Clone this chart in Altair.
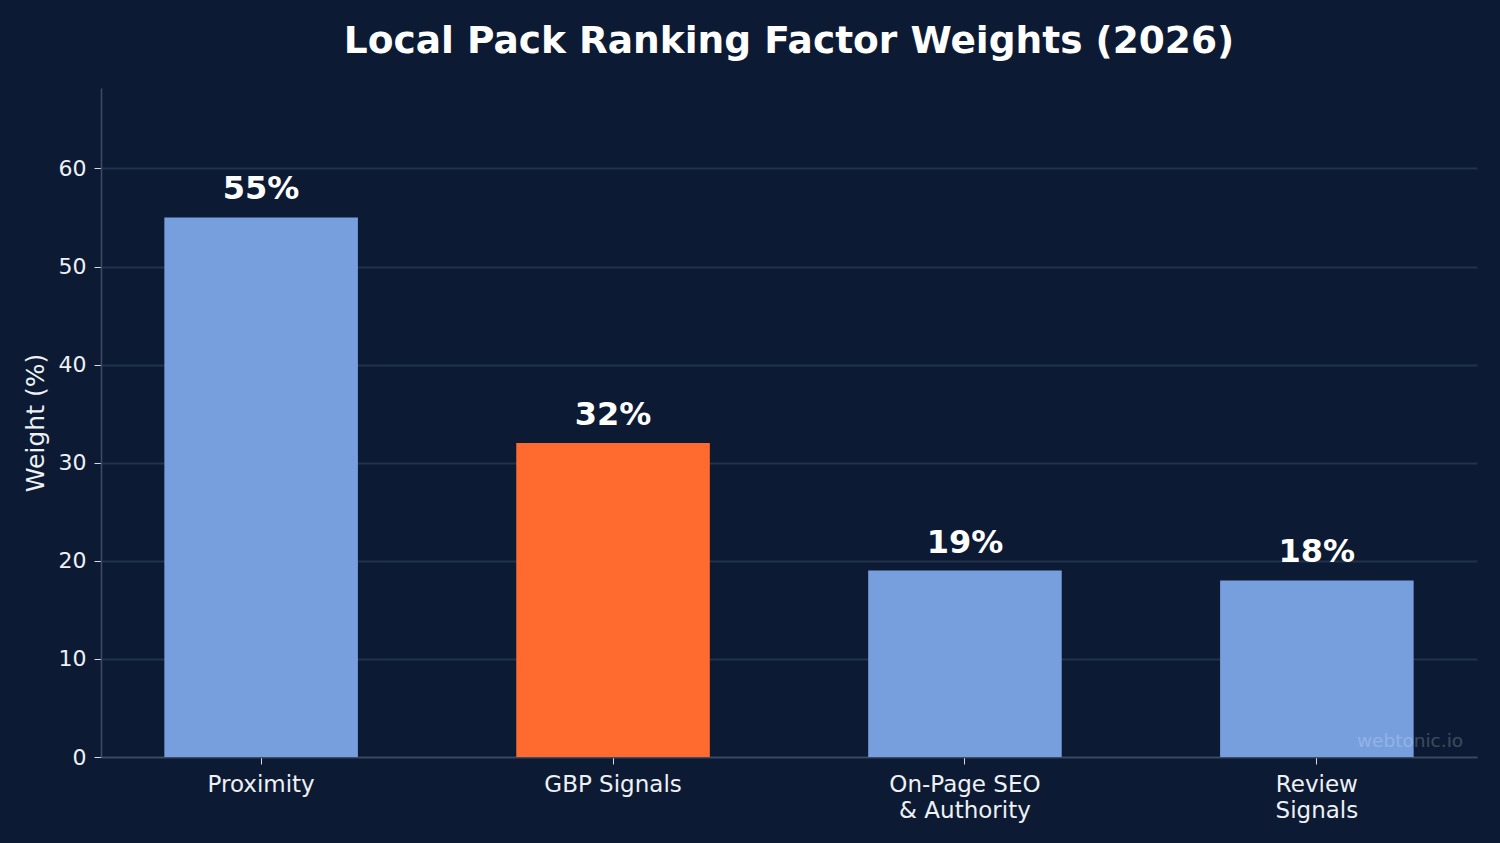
import altair as alt
import pandas as pd

# Ranking factor weights for the local pack
factors = ["Proximity", "GBP Signals", "On-Page SEO\n& Authority", "Review\nSignals"]
weights = [55, 32, 19, 18]
bar_colors = ["#779fdd", "#ff6b2f", "#779fdd", "#779fdd"]

BG = "#0c1b33"
TEXT = "#eef1f5"
FONT = "DejaVu Sans"

df = pd.DataFrame({
    "factor": factors,
    "weight": weights,
    "color": bar_colors,
    "label": [f"{w}%" for w in weights],
})

x_enc = alt.X(
    "factor:N",
    sort=None,
    title=None,
    scale=alt.Scale(paddingInner=0.45, paddingOuter=0.18),
    axis=alt.Axis(
        labelAngle=0,
        labelExpr="split(datum.label, '\\n')",
        labelLineHeight=26,
        labelFontSize=23,
        labelColor=TEXT,
        labelFont=FONT,
        labelPadding=9,
        tickSize=7,
        tickColor="#d5dbe3",
        domainColor="#3d4b63",
        domainWidth=1.5,
        grid=False,
    ),
)

y_enc = alt.Y(
    "weight:Q",
    title="Weight (%)",
    scale=alt.Scale(domain=[0, 68.2], nice=False),
    axis=alt.Axis(
        values=[0, 10, 20, 30, 40, 50, 60],
        labelFontSize=22,
        labelColor=TEXT,
        labelFont=FONT,
        labelPadding=8,
        tickSize=7,
        tickColor="#d5dbe3",
        domainColor="#3d4b63",
        domainWidth=1.5,
        gridColor="#22324c",
        gridWidth=1.8,
        titleFontSize=25,
        titleFont=FONT,
        titleFontWeight="normal",
        titleColor=TEXT,
        titlePadding=10,
    ),
)

bars = alt.Chart(df).mark_bar().encode(
    x=x_enc,
    y=y_enc,
    color=alt.Color("color:N", scale=None),
)

labels = alt.Chart(df).mark_text(
    font=FONT,
    fontSize=32,
    fontWeight="bold",
    color="#ffffff",
    baseline="alphabetic",
    dy=-18,
).encode(
    x=alt.X("factor:N", sort=None),
    y=alt.Y("weight:Q"),
    text="label:N",
)

watermark = alt.Chart(pd.DataFrame({"t": ["webtonic.io"]})).mark_text(
    font=FONT,
    fontSize=18.5,
    color="#ffffff",
    opacity=0.2,
    align="center",
    baseline="alphabetic",
).encode(
    x=alt.value(1309),
    y=alt.value(659),
    text="t:N",
)

chart = (
    alt.layer(bars, labels, watermark)
    .properties(
        width=1376,
        height=669,
        background=BG,
        padding={"left": 101, "top": 88, "right": 23, "bottom": 86},
        autosize=alt.AutoSizeParams(type="none"),
        title=alt.TitleParams(
            "Local Pack Ranking Factor Weights (2026)",
            font=FONT,
            fontSize=37.5,
            fontWeight="bold",
            color="#ffffff",
            anchor="middle",
            frame="group",
            offset=28,
        ),
    )
    .configure_view(stroke=None)
)

chart.save("out.html", embed_options={"renderer": "svg", "actions": False})
